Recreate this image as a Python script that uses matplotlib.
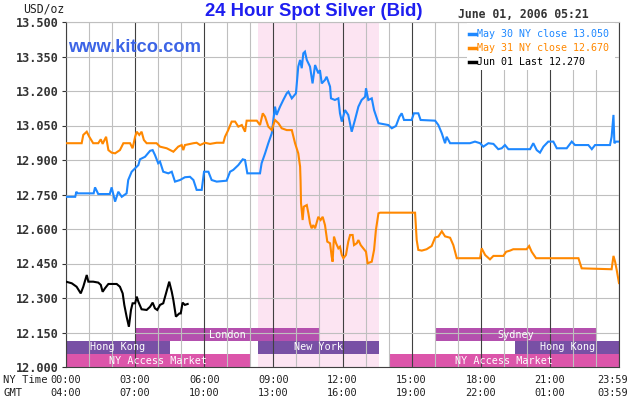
import numpy as np
import matplotlib
matplotlib.use('Agg')
import matplotlib.pyplot as plt
import matplotlib.transforms as mtransforms

# hours (NY time) and bid prices
may30_h = [0.0, 0.4, 0.45, 0.5, 1.2, 1.26, 1.4, 1.9, 1.98, 2.13, 2.27, 2.42, 2.63, 2.70, 2.85,
           3.0, 3.14, 3.21, 3.43, 3.65, 3.76, 3.86, 4.0, 4.08, 4.22, 4.44, 4.59, 4.73, 4.95,
           5.16, 5.38, 5.53, 5.67, 5.89, 5.99, 6.18, 6.32, 6.54, 6.97, 7.12, 7.26, 7.48, 7.67,
           7.77, 7.87, 8.42, 8.49, 8.64, 8.78, 8.93, 9.07, 9.14, 9.29, 9.43, 9.58, 9.65, 9.80,
           9.98, 10.08, 10.16, 10.23, 10.30, 10.37, 10.45, 10.59, 10.70, 10.81, 10.95, 11.02,
           11.10, 11.24, 11.31, 11.46, 11.50, 11.67, 11.82, 11.89, 11.97, 12.11, 12.25, 12.40,
           12.54, 12.69, 12.83, 12.98, 13.02, 13.12, 13.27, 13.37, 13.56, 13.99, 14.14, 14.32,
           14.47, 14.57, 14.67, 15.00, 15.10, 15.29, 15.39, 16.02, 16.16, 16.31, 16.45, 16.52,
           16.67, 17.53, 17.75, 17.97, 18.11, 18.33, 18.55, 18.76, 18.91, 19.05, 19.20, 20.14,
           20.28, 20.43, 20.57, 20.72, 20.93, 21.15, 21.30, 21.73, 21.95, 22.09, 22.67, 22.82,
           22.96, 23.61, 23.68, 23.76, 23.80, 23.87, 24.0]
may30_p = [12.740, 12.740, 12.762, 12.755, 12.755, 12.781, 12.752, 12.752, 12.781, 12.719, 12.762,
           12.740, 12.755, 12.813, 12.849, 12.864, 12.878, 12.903, 12.914, 12.940, 12.943, 12.922,
           12.886, 12.893, 12.849, 12.842, 12.849, 12.806, 12.813, 12.825, 12.827, 12.813, 12.770,
           12.770, 12.849, 12.849, 12.813, 12.806, 12.810, 12.849, 12.857, 12.878, 12.903, 12.900,
           12.842, 12.842, 12.886, 12.929, 12.973, 13.016, 13.132, 13.096, 13.132, 13.161, 13.190,
           13.197, 13.168, 13.190, 13.306, 13.335, 13.299, 13.364, 13.371, 13.335, 13.306, 13.233,
           13.313, 13.277, 13.291, 13.233, 13.248, 13.262, 13.219, 13.168, 13.161, 13.168, 13.103,
           13.067, 13.117, 13.096, 13.023, 13.074, 13.132, 13.161, 13.175, 13.212, 13.161, 13.168,
           13.117, 13.060, 13.052, 13.038, 13.048, 13.088, 13.103, 13.074, 13.074, 13.103, 13.103,
           13.074, 13.071, 13.052, 13.016, 12.973, 13.001, 12.973, 12.973, 12.980, 12.973, 12.958,
           12.973, 12.970, 12.947, 12.951, 12.965, 12.947, 12.947, 12.973, 12.943, 12.932, 12.958,
           12.980, 12.980, 12.951, 12.951, 12.980, 12.965, 12.965, 12.947, 12.965, 12.965, 13.001,
           13.096, 12.973, 12.980, 12.980]

may31_h = [0.0, 0.68, 0.75, 0.90, 1.01, 1.18, 1.40, 1.51, 1.59, 1.74, 1.84, 1.98, 2.13, 2.34,
           2.49, 2.78, 2.89, 3.0, 3.07, 3.18, 3.28, 3.38, 3.50, 3.93, 4.08, 4.37, 4.66, 4.87,
           5.02, 5.09, 5.16, 5.53, 5.67, 5.82, 6.03, 6.25, 6.54, 6.83, 6.90, 7.04, 7.19, 7.34,
           7.48, 7.63, 7.77, 7.84, 8.28, 8.42, 8.54, 8.64, 8.78, 8.93, 9.07, 9.22, 9.36, 9.58,
           9.80, 9.94, 10.08, 10.16, 10.18, 10.20, 10.27, 10.32, 10.45, 10.52, 10.59, 10.66,
           10.73, 10.81, 10.95, 11.05, 11.14, 11.24, 11.34, 11.46, 11.53, 11.57, 11.63, 11.72,
           11.82, 11.89, 11.97, 12.04, 12.15, 12.25, 12.33, 12.44, 12.50, 12.62, 12.69, 12.79,
           12.90, 13.02, 13.09, 13.27, 13.37, 13.45, 13.56, 13.63, 15.15, 15.22, 15.29, 15.44,
           15.65, 15.87, 16.02, 16.16, 16.31, 16.45, 16.67, 16.81, 16.96, 17.97, 18.04, 18.19,
           18.40, 18.55, 18.98, 19.10, 19.27, 19.41, 19.99, 20.10, 20.21, 20.40, 22.24, 22.38,
           23.68, 23.76, 23.83, 23.90, 24.0]
may31_p = [12.973, 12.973, 13.009, 13.023, 13.001, 12.973, 12.973, 12.990, 12.970, 13.001, 12.943,
           12.932, 12.929, 12.943, 12.973, 12.973, 12.951, 13.001, 13.023, 13.009, 13.023, 12.987,
           12.973, 12.973, 12.958, 12.951, 12.936, 12.958, 12.965, 12.943, 12.965, 12.973, 12.975,
           12.965, 12.975, 12.970, 12.975, 12.975, 13.001, 13.030, 13.067, 13.067, 13.045, 13.052,
           13.023, 13.071, 13.071, 13.052, 13.103, 13.088, 13.045, 13.030, 13.074, 13.060, 13.038,
           13.030, 13.030, 12.973, 12.929, 12.871, 12.810, 12.712, 12.639, 12.697, 12.704, 12.668,
           12.625, 12.603, 12.617, 12.603, 12.653, 12.639, 12.653, 12.617, 12.545, 12.538, 12.480,
           12.458, 12.567, 12.538, 12.516, 12.523, 12.487, 12.473, 12.487, 12.545, 12.574, 12.574,
           12.530, 12.538, 12.552, 12.530, 12.516, 12.501, 12.451, 12.458, 12.509, 12.596, 12.668,
           12.671, 12.671, 12.552, 12.509, 12.506, 12.512, 12.526, 12.563, 12.567, 12.590, 12.568,
           12.562, 12.530, 12.473, 12.473, 12.516, 12.487, 12.468, 12.483, 12.483, 12.501, 12.506,
           12.512, 12.512, 12.526, 12.501, 12.473, 12.473, 12.429, 12.425, 12.483, 12.458, 12.422,
           12.365]

jun01_h = [0.0, 0.25, 0.46, 0.64, 0.75, 0.90, 0.97, 1.18, 1.40, 1.51, 1.59, 1.69, 1.84, 2.20,
           2.34, 2.46, 2.53, 2.63, 2.73, 2.82, 2.89, 3.0, 3.07, 3.14, 3.28, 3.50, 3.65, 3.76,
           3.86, 3.96, 4.08, 4.22, 4.34, 4.48, 4.59, 4.66, 4.77, 4.92, 4.98, 5.06, 5.16, 5.28]
jun01_p = [12.371, 12.364, 12.349, 12.320, 12.349, 12.400, 12.371, 12.371, 12.367, 12.357, 12.327,
           12.342, 12.361, 12.361, 12.349, 12.320, 12.270, 12.219, 12.175, 12.248, 12.277, 12.277,
           12.306, 12.284, 12.251, 12.248, 12.262, 12.280, 12.255, 12.248, 12.270, 12.277, 12.320,
           12.371, 12.327, 12.291, 12.219, 12.233, 12.233, 12.280, 12.270, 12.274]

legend_labels = ['May 30 NY close 13.050', 'May 31 NY close 12.670', 'Jun 01 Last 12.270']
line_colors = ['#1e88ff', '#ff8800', '#000000']

ny_ticks = [0, 3, 6, 9, 12, 15, 18, 21, 23.983]
ny_labels = ['00:00', '03:00', '06:00', '09:00', '12:00', '15:00', '18:00', '21:00', '23:59']
gmt_labels = ['04:00', '07:00', '10:00', '13:00', '16:00', '19:00', '22:00', '01:00', '03:59']

y_ticks = [12.000, 12.150, 12.300, 12.450, 12.600, 12.750, 12.900, 13.050, 13.200, 13.350, 13.500]

# market sessions: (name, start hour, end hour, row)
sessions = [('London', 3.0, 11.0, 2), ('Sydney', 16.0, 23.0, 2),
            ('Hong Kong', 0.0, 4.5, 1), ('New York', 8.333, 13.583, 1), ('Hong Kong', 19.5, 24.0, 1),
            ('NY Access Market', 0.0, 8.0, 0), ('NY Access Market', 14.0, 24.0, 0)]
row_colors = ['#dc55aa', '#7850a5', '#b450ae']
pit_start, pit_end = 8.333, 13.583

mono = 'DejaVu Sans Mono'

fig = plt.figure(figsize=(6.3, 4.0), dpi=100)
ax = fig.add_axes([66 / 630, 1 - 367 / 400, (619 - 66) / 630, (367 - 22) / 400])

ax.axvspan(pit_start, pit_end, color='#fce4f2', zorder=0, lw=0)

trans = mtransforms.blended_transform_factory(ax.transData, ax.transAxes)
row_h = 13 / 345
for name, h0, h1, row in sessions:
    ax.add_patch(plt.Rectangle((h0, row * row_h), h1 - h0, row_h, transform=trans,
                               facecolor=row_colors[row], edgecolor='none', zorder=1))
    ax.text((h0 + h1) / 2, (row + 0.5) * row_h, name, transform=trans, color='white',
            ha='center', va='center', fontsize=7.3, family=mono, zorder=4)

for x, y, c in zip([may30_h, may31_h, jun01_h], [may30_p, may31_p, jun01_p], line_colors):
    ax.plot(x, y, color=c, lw=1.5, zorder=3, solid_joinstyle='miter')

ax.set_xlim(0, 24)
ax.set_ylim(12.0, 13.5)
ax.set_xticks(np.arange(0, 25, 3))
ax.set_xticks(np.arange(0, 25, 1), minor=True)
ax.set_yticks(y_ticks)
ax.set_yticklabels([f'{v:.3f}' for v in y_ticks], family=mono, fontsize=8.6,
                   fontweight='bold', color='#333333')
ax.set_xticklabels([])
ax.tick_params(axis='x', which='both', length=0)
ax.tick_params(axis='y', length=3, width=0.8, pad=2, color='#333333')
ax.set_axisbelow(False)
ax.grid(which='minor', axis='x', color='#bfbfbf', lw=0.8, zorder=2)
ax.grid(which='major', axis='x', color='#404040', lw=0.8, zorder=2)
ax.grid(which='major', axis='y', color='#bfbfbf', lw=0.8, zorder=2)
for side in ['left', 'bottom', 'right']:
    ax.spines[side].set_color('#404040')
    ax.spines[side].set_linewidth(0.8)
ax.spines['top'].set_color('#bfbfbf')
ax.spines['top'].set_linewidth(0.8)

# time labels under the axis
for h, ny, gmt in zip(ny_ticks, ny_labels, gmt_labels):
    dx = -6 / 72 * 72 if h > 23 else 0
    ax.annotate(ny, (h, 0), xycoords=trans, xytext=(dx, -13), textcoords='offset pixels',
                ha='center', va='center', fontsize=7.4, family=mono, color='#222222')
    ax.annotate(gmt, (h, 0), xycoords=trans, xytext=(dx, -26), textcoords='offset pixels',
                ha='center', va='center', fontsize=7.4, family=mono, color='#222222')
fig.text(3 / 630, 1 - 380 / 400, 'NY Time', ha='left', va='center', fontsize=7.6,
         family=mono, color='#222222')
fig.text(3 / 630, 1 - 393 / 400, 'GMT', ha='left', va='center', fontsize=7.6,
         family=mono, color='#222222')

fig.text(314 / 630, 1 - 11 / 400, '24 Hour Spot Silver (Bid)', ha='center', va='center',
         fontsize=13.3, fontweight='bold', family='Liberation Sans', color='#1e1ef0')
fig.text(68 / 630, 1 - 48 / 400, 'www.kitco.com', ha='left', va='center',
         fontsize=13.2, fontweight='bold', family='Liberation Sans', color='#3c64e6')
fig.text(23 / 630, 1 - 9 / 400, 'USD/oz', ha='left', va='center', fontsize=8.3,
         family=mono, color='#222222')
fig.text(458 / 630, 1 - 15 / 400, 'June 01, 2006 05:21', ha='left', va='center',
         fontsize=8.3, fontweight='bold', family=mono, color='#333333')

# legend box
fig.patches.append(plt.Rectangle((467 / 630, 1 - 70 / 400), 148 / 630, 47 / 400,
                                 transform=fig.transFigure, facecolor='white',
                                 edgecolor='none', zorder=5))
for i, (lab, c) in enumerate(zip(legend_labels, line_colors)):
    yy = 1 - (34 + 14 * i) / 400
    fig.add_artist(plt.Line2D([469 / 630, 476 / 630], [yy, yy], color=c, lw=2.5,
                              transform=fig.transFigure, zorder=6))
    fig.text(477 / 630, yy, lab, ha='left', va='center', fontsize=7.2, family=mono,
             color=c, zorder=6)

fig.savefig('out.png', dpi=100)
